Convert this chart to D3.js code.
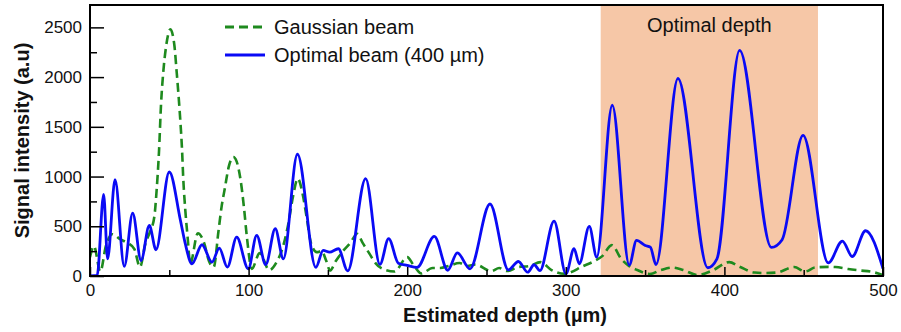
<!DOCTYPE html>
<html>
<head>
<meta charset="utf-8">
<script src="https://cdn.jsdelivr.net/npm/d3@7/dist/d3.min.js"></script>
<style>
  html, body { margin: 0; padding: 0; background: #fff; }
  svg { display: block; font-family: "Liberation Sans", Arial, sans-serif; }
</style>
</head>
<body>
<svg id="chart" width="901" height="332"></svg>
<script>
// Depth positions (µm) and signal intensities (a.u.) of the optimal 400 µm beam
const optimalDepth = [0, 4.5, 8.6, 11.1, 15.8, 21.6, 26.9, 32.2, 37.4, 41.6, 50.0, 57, 60, 64.3, 70.6, 76.9, 81.5, 86.6, 92.5, 99.8, 105.1, 110.8, 116.8, 121.9, 130.8, 142.4, 147, 151, 156.6, 162.5, 173.8, 182.8, 188.3, 194.4, 200, 206.2, 217.1, 225.6, 231.6, 239.6, 252.2, 263.8, 270.1, 276, 280, 283.7, 292.6, 300.1, 305.2, 308.5, 314.8, 319.5, 329.3, 340, 344.6, 350.1, 353.3, 356.9, 370.7, 389.5, 395.3, 409.6, 429.6, 436.4, 449.6, 465.5, 474.4, 480.6, 489, 500];
const optimalSignal = [0, 5, 821, 173, 969, 96, 633, 156, 508, 264, 1046, 560, 330, 123, 314, 139, 280, 89, 391, 72, 408, 115, 475, 173, 1224, 86, 257, 240, 274, 52, 979, 116, 375, 129, 106, 86, 398, 58, 232, 72, 724, 62, 146, 38, 113, 55, 552, 22, 274, 123, 499, 190, 1717, 110, 358, 307, 290, 115, 1986, 83, 173, 2268, 287, 365, 1415, 131, 351, 196, 455, 75];

// Depth positions (µm) and signal intensities (a.u.) of the Gaussian beam
const gaussDepth = [0, 2.5, 6.5, 10, 14, 19, 24, 28, 31.5, 35, 38, 40.6, 42, 43.5, 44.8, 46.2, 47.9, 50.7, 53.2, 54.6, 55.9, 57, 58, 58.8, 60.1, 61.5, 63.2, 68, 72, 75, 78, 81, 83, 85, 87.5, 90.4, 92.5, 95, 97, 99, 102, 107, 113, 118, 121, 125, 128, 131, 134, 136.5, 139.5, 143, 146, 149, 151.3, 155, 160, 164, 168.5, 172, 176, 180, 184, 192, 200, 204, 209, 216, 221, 226, 233, 238, 243, 253, 258, 263, 270, 277, 284, 291, 299, 311, 318, 323, 329, 335, 340, 345, 353, 360, 367, 374, 383, 393, 403, 410, 419, 425, 433, 444, 451, 457, 466, 470, 478, 486, 492, 500];
const gaussSignal = [190, 300, 45, 300, 420, 370, 330, 270, 90, 330, 450, 600, 860, 1250, 1730, 2050, 2300, 2480, 2320, 2060, 1800, 1550, 1280, 980, 660, 400, 125, 430, 330, 150, 90, 450, 700, 880, 1100, 1197, 1150, 960, 700, 380, 72, 230, 60, 150, 260, 520, 800, 980, 830, 600, 320, 240, 250, 150, 55, 150, 260, 330, 425, 330, 230, 130, 75, 45, 190, 110, 25, 80, 80, 100, 130, 100, 115, 50, 80, 50, 90, 100, 140, 60, 22, 100, 150, 200, 310, 170, 100, 60, 20, 60, 85, 60, 10, 60, 140, 90, 35, 30, 35, 90, 45, 85, 92, 90, 70, 55, 45, 10];

// Axis ticks and the highlighted depth band
const xMajorTicks = [0, 100, 200, 300, 400, 500];
const xMinorTicks = [50, 150, 250, 350, 450];
const yMajorTicks = [0, 500, 1000, 1500, 2000, 2500];
const yMinorTicks = [250, 750, 1250, 1750, 2250];
const bandRange = [322, 459];
const bandLabel = "Optimal depth";
const seriesNames = ["Gaussian beam", "Optimal beam (400 µm)"];
const xTitle = "Estimated depth (µm)";
const yTitle = "Signal intensity (a.u)";

const margin = { left: 90, right: 18, top: 5, bottom: 56 };
const W = 901, H = 332;
const innerW = W - margin.left - margin.right;
const innerH = H - margin.top - margin.bottom;

const svg = d3.select("#chart");
const g = svg.append("g").attr("transform", `translate(${margin.left},${margin.top})`);

const x = d3.scaleLinear().domain([0, 500]).range([0, innerW]);
const y = d3.scaleLinear().domain([0, 2725]).range([innerH, 0]);

// Highlighted depth band
g.append("rect")
  .attr("x", x(bandRange[0]))
  .attr("y", 0)
  .attr("width", x(bandRange[1]) - x(bandRange[0]))
  .attr("height", innerH)
  .attr("fill", "#f6c7a7");

g.append("text")
  .attr("x", (x(bandRange[0]) + x(bandRange[1])) / 2)
  .attr("y", 27)
  .attr("text-anchor", "middle")
  .attr("font-size", 20)
  .attr("fill", "#111")
  .text(bandLabel);

// Curves
const clip = g.append("clipPath").attr("id", "plotClip")
  .append("rect").attr("width", innerW).attr("height", innerH);

const line = d3.line()
  .x(d => x(d[0]))
  .y(d => y(d[1]))
  .curve(d3.curveMonotoneX);

const gaussData = gaussDepth.map((d, i) => [d, gaussSignal[i]]);
const optData = optimalDepth.map((d, i) => [d, optimalSignal[i]]);

g.append("path")
  .datum(gaussData)
  .attr("clip-path", "url(#plotClip)")
  .attr("fill", "none")
  .attr("stroke", "#1e8a1e")
  .attr("stroke-width", 2.6)
  .attr("stroke-dasharray", "9,5")
  .attr("d", line);

g.append("path")
  .datum(optData)
  .attr("clip-path", "url(#plotClip)")
  .attr("fill", "none")
  .attr("stroke", "#0a0af5")
  .attr("stroke-width", 2.8)
  .attr("stroke-linejoin", "round")
  .attr("d", line);

// Axes with inward ticks
const xAxis = d3.axisBottom(x).tickValues(xMajorTicks).tickSize(-9).tickPadding(8).tickFormat(d3.format("d"));
const xAxisMinor = d3.axisBottom(x).tickValues(xMinorTicks).tickSize(-6).tickFormat("");
const yAxis = d3.axisLeft(y).tickValues(yMajorTicks).tickSize(-14).tickPadding(8).tickFormat(d3.format("d"));
const yAxisMinor = d3.axisLeft(y).tickValues(yMinorTicks).tickSize(-7).tickFormat("");

function styleAxis(sel) {
  sel.select(".domain").remove();
  sel.selectAll(".tick line").attr("stroke", "#000").attr("stroke-width", 1.5);
  sel.selectAll(".tick text").attr("font-size", 17).attr("fill", "#111")
    .attr("font-family", "Liberation Sans, Arial, sans-serif");
}

g.append("g").attr("transform", `translate(0,${innerH})`).call(xAxis).call(styleAxis);
g.append("g").attr("transform", `translate(0,${innerH})`).call(xAxisMinor).call(styleAxis);
g.append("g").call(yAxis).call(styleAxis);
g.append("g").call(yAxisMinor).call(styleAxis);

// Frame
g.append("rect")
  .attr("width", innerW).attr("height", innerH)
  .attr("fill", "none").attr("stroke", "#000").attr("stroke-width", 2);

// Legend
const legend = g.append("g").attr("transform", "translate(135,0)");
const legendRows = [
  { name: seriesNames[0], color: "#1e8a1e", dash: "9,5", y: 22 },
  { name: seriesNames[1], color: "#0a0af5", dash: null, y: 50 }
];
legendRows.forEach(r => {
  legend.append("line")
    .attr("x1", 0).attr("x2", 40).attr("y1", r.y).attr("y2", r.y)
    .attr("stroke", r.color).attr("stroke-width", 2.8)
    .attr("stroke-dasharray", r.dash);
  legend.append("text")
    .attr("x", 49).attr("y", r.y + 7)
    .attr("font-size", 20).attr("fill", "#111")
    .text(r.name);
});

// Axis titles
svg.append("text")
  .attr("x", 505).attr("y", 322)
  .attr("text-anchor", "middle")
  .attr("font-size", 20).attr("font-weight", "bold").attr("fill", "#111")
  .text(xTitle);

svg.append("text")
  .attr("transform", `translate(29,${margin.top + innerH / 2}) rotate(-90)`)
  .attr("text-anchor", "middle")
  .attr("font-size", 20).attr("font-weight", "bold").attr("fill", "#111")
  .text(yTitle);
</script>
</body>
</html>
